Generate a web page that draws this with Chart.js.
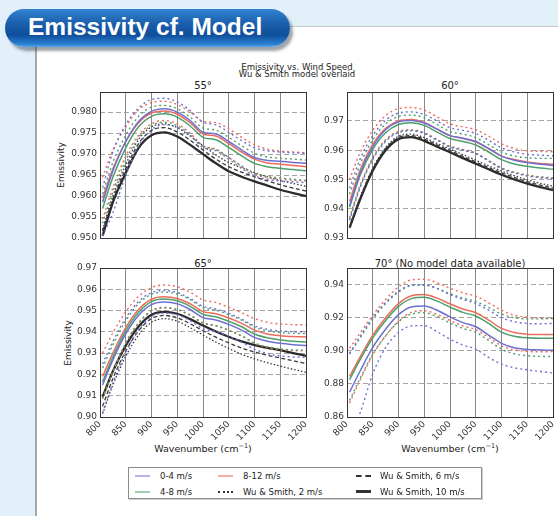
<!DOCTYPE html>
<html>
<head>
<meta charset="utf-8">
<script src="https://cdn.jsdelivr.net/npm/chart.js@4.4.1/dist/chart.umd.min.js"></script>
<style>
  body { margin:0; width:558px; height:516px; background:#e2f0fa; position:relative; overflow:hidden; font-family:"DejaVu Sans", sans-serif; color:#222; }
  #sheet { position:absolute; left:35px; top:26px; width:523px; height:490px; background:#fff; border-left:2px solid #a3a8ad; border-top:1px solid #c3ccd3; }
  #badge { position:absolute; left:5px; top:9px; width:285px; height:38px; border-radius:19px;
           background:linear-gradient(#3282d2 0%, #1a5eab 40%, #0f4e9a 68%, #2a7fd0 92%, #56a6ec 100%);
           box-shadow:3px 4px 3px rgba(40,50,60,0.45); color:#fff;
           font:bold 24.5px "Liberation Sans", Arial, sans-serif; line-height:36px; padding-left:23px; box-sizing:border-box; }
  .lbl { position:absolute; transform:translate(-50%,-50%); white-space:nowrap; }
  .ytitle { position:absolute; transform:translate(-50%,-50%) rotate(-90deg); font-size:9px; white-space:nowrap; }
  canvas { position:absolute; }
  #legend { position:absolute; left:128px; top:467px; width:354px; height:32px; box-sizing:border-box;
            border:1px solid #8c8c8c; box-shadow:1px 1px 0 #cfcfcf; background:#fff; font-size:8.5px; }
  .key { position:absolute; width:15px; height:0; }
  .ktxt { position:absolute; transform:translateY(-50%); white-space:nowrap; }
</style>
</head>
<body>
<div id="sheet"></div>
<div id="badge">Emissivity cf. Model</div>

<div class="lbl" style="left:297px;top:66.5px;font-size:8.5px">Emissivity vs. Wind Speed</div>
<div class="lbl" style="left:297px;top:74px;font-size:8.5px">Wu &amp; Smith model overlaid</div>

<div class="lbl" style="left:203px;top:85px;font-size:10px">55°</div>
<div class="lbl" style="left:450px;top:85px;font-size:10px">60°</div>
<div class="lbl" style="left:203px;top:262.5px;font-size:10px">65°</div>
<div class="lbl" style="left:450px;top:262.5px;font-size:10px">70° (No model data available)</div>

<div class="ytitle" style="left:61px;top:165px">Emissivity</div>
<div class="ytitle" style="left:68px;top:342.5px">Emissivity</div>

<div class="lbl" style="left:203px;top:447.5px;font-size:9.5px">Wavenumber (cm<sup style="font-size:6.5px">−1</sup>)</div>
<div class="lbl" style="left:450px;top:447.5px;font-size:9.5px">Wavenumber (cm<sup style="font-size:6.5px">−1</sup>)</div>

<canvas id="c55"></canvas>
<canvas id="c60"></canvas>
<canvas id="c65"></canvas>
<canvas id="c70"></canvas>

<div id="legend">
  <div class="key" style="left:6px;top:7px;border-top:2px solid #b3b6ea"></div>
  <div class="ktxt" style="left:31px;top:8px">0-4 m/s</div>
  <div class="key" style="left:6px;top:22.5px;border-top:2px solid #a2ceb0"></div>
  <div class="ktxt" style="left:31px;top:23.5px">4-8 m/s</div>
  <div class="key" style="left:89px;top:7px;border-top:2px solid #f3aea5"></div>
  <div class="ktxt" style="left:114px;top:8px">8-12 m/s</div>
  <div class="key" style="left:89px;top:22.5px;border-top:2px dotted #333"></div>
  <div class="ktxt" style="left:114px;top:23.5px">Wu &amp; Smith, 2 m/s</div>
  <div class="key" style="left:227px;top:7px;border-top:2px dashed #333"></div>
  <div class="ktxt" style="left:251px;top:8px">Wu &amp; Smith, 6 m/s</div>
  <div class="key" style="left:227px;top:22px;border-top:3px solid #333"></div>
  <div class="ktxt" style="left:251px;top:23.5px">Wu &amp; Smith, 10 m/s</div>
</div>

<script>
// wavenumber grid (cm^-1) shared by every curve
const wn = [805, 825, 850, 875, 900, 925, 950, 975, 1000, 1025, 1050, 1075, 1100, 1125, 1150, 1175, 1200];
const xTicks = [800, 850, 900, 950, 1000, 1050, 1100, 1150, 1200];

// 55 deg
const w04_55    = [0.9585, 0.9660, 0.9730, 0.9778, 0.9802, 0.9808, 0.9800, 0.9780, 0.9752, 0.9748, 0.9730, 0.9710, 0.9692, 0.9685, 0.9683, 0.9680, 0.9678];
const w04Hi_55  = [0.9620, 0.9705, 0.9770, 0.9810, 0.9830, 0.9833, 0.9824, 0.9804, 0.9776, 0.9770, 0.9752, 0.9732, 0.9715, 0.9708, 0.9705, 0.9703, 0.9702];
const w04Lo_55  = [0.9505, 0.9560, 0.9650, 0.9720, 0.9758, 0.9770, 0.9764, 0.9744, 0.9716, 0.9708, 0.9688, 0.9666, 0.9648, 0.9640, 0.9636, 0.9634, 0.9632];
const w48_55    = [0.9570, 0.9645, 0.9715, 0.9765, 0.9790, 0.9796, 0.9788, 0.9767, 0.9740, 0.9734, 0.9716, 0.9696, 0.9678, 0.9670, 0.9666, 0.9663, 0.9660];
const w48Hi_55  = [0.9605, 0.9680, 0.9745, 0.9790, 0.9812, 0.9816, 0.9808, 0.9788, 0.9762, 0.9757, 0.9740, 0.9720, 0.9702, 0.9693, 0.9690, 0.9688, 0.9686];
const w48Lo_55  = [0.9535, 0.9610, 0.9685, 0.9740, 0.9768, 0.9776, 0.9768, 0.9746, 0.9718, 0.9711, 0.9692, 0.9672, 0.9654, 0.9647, 0.9643, 0.9640, 0.9637];
const w812_55   = [0.9595, 0.9665, 0.9730, 0.9775, 0.9798, 0.9803, 0.9795, 0.9775, 0.9748, 0.9743, 0.9725, 0.9705, 0.9688, 0.9679, 0.9676, 0.9673, 0.9670];
const w812Hi_55 = [0.9645, 0.9710, 0.9765, 0.9805, 0.9823, 0.9826, 0.9818, 0.9800, 0.9778, 0.9775, 0.9760, 0.9740, 0.9722, 0.9712, 0.9707, 0.9705, 0.9703];
const w812Lo_55 = [0.9545, 0.9620, 0.9695, 0.9745, 0.9772, 0.9780, 0.9772, 0.9750, 0.9720, 0.9712, 0.9692, 0.9670, 0.9652, 0.9644, 0.9640, 0.9638, 0.9636];
const ws2_55    = [0.9520, 0.9600, 0.9675, 0.9735, 0.9765, 0.9772, 0.9763, 0.9743, 0.9720, 0.9698, 0.9680, 0.9667, 0.9656, 0.9646, 0.9637, 0.9630, 0.9623];
const ws6_55    = [0.9517, 0.9593, 0.9665, 0.9725, 0.9756, 0.9763, 0.9753, 0.9733, 0.9710, 0.9688, 0.9670, 0.9657, 0.9646, 0.9636, 0.9627, 0.9619, 0.9612];
const ws10_55   = [0.9505, 0.9585, 0.9655, 0.9715, 0.9745, 0.9752, 0.9742, 0.9722, 0.9700, 0.9678, 0.9659, 0.9646, 0.9635, 0.9625, 0.9615, 0.9607, 0.9600];
const yTicks55  = [0.950, 0.955, 0.960, 0.965, 0.970, 0.975, 0.980];

// 60 deg
const w04_60    = [0.9410, 0.9520, 0.9612, 0.9670, 0.9697, 0.9702, 0.9693, 0.9672, 0.9650, 0.9641, 0.9630, 0.9606, 0.9580, 0.9566, 0.9558, 0.9552, 0.9548];
const w04Hi_60  = [0.9470, 0.9568, 0.9650, 0.9702, 0.9727, 0.9731, 0.9722, 0.9700, 0.9677, 0.9668, 0.9657, 0.9634, 0.9608, 0.9594, 0.9586, 0.9583, 0.9581];
const w04Lo_60  = [0.9360, 0.9470, 0.9568, 0.9630, 0.9660, 0.9666, 0.9657, 0.9634, 0.9611, 0.9600, 0.9588, 0.9563, 0.9537, 0.9522, 0.9512, 0.9506, 0.9502];
const w48_60    = [0.9405, 0.9512, 0.9603, 0.9660, 0.9688, 0.9694, 0.9685, 0.9662, 0.9640, 0.9630, 0.9618, 0.9594, 0.9568, 0.9553, 0.9545, 0.9539, 0.9535];
const w48Hi_60  = [0.9450, 0.9550, 0.9635, 0.9690, 0.9715, 0.9720, 0.9711, 0.9688, 0.9664, 0.9655, 0.9643, 0.9619, 0.9594, 0.9580, 0.9574, 0.9572, 0.9572];
const w48Lo_60  = [0.9365, 0.9474, 0.9571, 0.9633, 0.9662, 0.9668, 0.9658, 0.9635, 0.9612, 0.9601, 0.9589, 0.9564, 0.9538, 0.9524, 0.9514, 0.9508, 0.9504];
const w812_60   = [0.9425, 0.9530, 0.9620, 0.9675, 0.9700, 0.9705, 0.9695, 0.9672, 0.9650, 0.9640, 0.9628, 0.9605, 0.9580, 0.9568, 0.9560, 0.9555, 0.9552];
const w812Hi_60 = [0.9500, 0.9590, 0.9668, 0.9718, 0.9742, 0.9746, 0.9737, 0.9714, 0.9690, 0.9680, 0.9670, 0.9648, 0.9622, 0.9606, 0.9598, 0.9596, 0.9595];
const w812Lo_60 = [0.9370, 0.9478, 0.9575, 0.9636, 0.9664, 0.9670, 0.9660, 0.9637, 0.9614, 0.9603, 0.9590, 0.9565, 0.9540, 0.9525, 0.9515, 0.9509, 0.9506];
const ws2_60    = [0.9340, 0.9437, 0.9539, 0.9609, 0.9648, 0.9655, 0.9643, 0.9623, 0.9604, 0.9585, 0.9566, 0.9547, 0.9529, 0.9513, 0.9499, 0.9487, 0.9477];
const ws6_60    = [0.9338, 0.9434, 0.9535, 0.9605, 0.9643, 0.9650, 0.9638, 0.9618, 0.9599, 0.9579, 0.9560, 0.9541, 0.9523, 0.9507, 0.9493, 0.9481, 0.9471];
const ws10_60   = [0.9335, 0.9430, 0.9530, 0.9600, 0.9638, 0.9645, 0.9632, 0.9612, 0.9593, 0.9573, 0.9554, 0.9535, 0.9516, 0.9500, 0.9486, 0.9474, 0.9464];
const yTicks60  = [0.93, 0.94, 0.95, 0.96, 0.97];

// 65 deg
const w04_65    = [0.9150, 0.9268, 0.9390, 0.9478, 0.9528, 0.9540, 0.9532, 0.9505, 0.9467, 0.9456, 0.9435, 0.9408, 0.9374, 0.9356, 0.9346, 0.9340, 0.9336];
const w04Hi_65  = [0.9250, 0.9355, 0.9465, 0.9543, 0.9584, 0.9594, 0.9585, 0.9557, 0.9520, 0.9508, 0.9487, 0.9460, 0.9428, 0.9412, 0.9404, 0.9401, 0.9400];
const w04Lo_65  = [0.9020, 0.9160, 0.9305, 0.9410, 0.9472, 0.9488, 0.9480, 0.9453, 0.9415, 0.9402, 0.9380, 0.9352, 0.9318, 0.9298, 0.9287, 0.9282, 0.9280];
const w48_65    = [0.9165, 0.9282, 0.9405, 0.9492, 0.9542, 0.9554, 0.9546, 0.9520, 0.9482, 0.9471, 0.9450, 0.9424, 0.9390, 0.9372, 0.9362, 0.9356, 0.9352];
const w48Hi_65  = [0.9230, 0.9340, 0.9452, 0.9533, 0.9576, 0.9587, 0.9578, 0.9551, 0.9514, 0.9502, 0.9481, 0.9455, 0.9422, 0.9405, 0.9397, 0.9393, 0.9392];
const w48Lo_65  = [0.9090, 0.9215, 0.9350, 0.9443, 0.9500, 0.9515, 0.9506, 0.9480, 0.9443, 0.9430, 0.9408, 0.9382, 0.9348, 0.9330, 0.9320, 0.9315, 0.9314];
const w812_65   = [0.9190, 0.9300, 0.9420, 0.9505, 0.9553, 0.9565, 0.9557, 0.9532, 0.9495, 0.9485, 0.9465, 0.9440, 0.9408, 0.9390, 0.9382, 0.9378, 0.9376];
const w812Hi_65 = [0.9300, 0.9395, 0.9495, 0.9567, 0.9608, 0.9620, 0.9612, 0.9587, 0.9550, 0.9538, 0.9515, 0.9490, 0.9462, 0.9445, 0.9437, 0.9434, 0.9433];
const w812Lo_65 = [0.9085, 0.9210, 0.9345, 0.9440, 0.9497, 0.9512, 0.9503, 0.9477, 0.9440, 0.9428, 0.9406, 0.9380, 0.9345, 0.9326, 0.9316, 0.9312, 0.9310];
const ws2_65    = [0.9015, 0.9150, 0.9285, 0.9385, 0.9445, 0.9462, 0.9450, 0.9420, 0.9385, 0.9352, 0.9322, 0.9295, 0.9273, 0.9255, 0.9239, 0.9224, 0.9210];
const ws6_65    = [0.9050, 0.9180, 0.9310, 0.9405, 0.9462, 0.9477, 0.9466, 0.9438, 0.9405, 0.9375, 0.9348, 0.9324, 0.9305, 0.9290, 0.9277, 0.9264, 0.9252];
const ws10_65   = [0.9095, 0.9215, 0.9335, 0.9425, 0.9480, 0.9494, 0.9485, 0.9460, 0.9430, 0.9402, 0.9377, 0.9355, 0.9338, 0.9325, 0.9314, 0.9300, 0.9287];
const yTicks65  = [0.90, 0.91, 0.92, 0.93, 0.94, 0.95, 0.96, 0.97];

// 70 deg (observations only)
const w04_70    = [0.8750, 0.8875, 0.9020, 0.9130, 0.9218, 0.9265, 0.9270, 0.9245, 0.9205, 0.9170, 0.9145, 0.9095, 0.9045, 0.9018, 0.9008, 0.9005, 0.9003];
const w04Hi_70  = [0.8985, 0.9085, 0.9200, 0.9292, 0.9360, 0.9396, 0.9398, 0.9375, 0.9340, 0.9310, 0.9285, 0.9245, 0.9200, 0.9175, 0.9165, 0.9163, 0.9165];
const w04Lo_70  = [0.8480, 0.8620, 0.8860, 0.9020, 0.9110, 0.9150, 0.9152, 0.9115, 0.9070, 0.9035, 0.9010, 0.8960, 0.8920, 0.8897, 0.8885, 0.8875, 0.8866];
const w48_70    = [0.8825, 0.8943, 0.9078, 0.9183, 0.9268, 0.9315, 0.9323, 0.9300, 0.9264, 0.9232, 0.9210, 0.9165, 0.9113, 0.9088, 0.9078, 0.9075, 0.9075];
const w48Hi_70  = [0.8980, 0.9075, 0.9190, 0.9285, 0.9355, 0.9393, 0.9397, 0.9377, 0.9345, 0.9318, 0.9298, 0.9262, 0.9222, 0.9200, 0.9193, 0.9193, 0.9195];
const w48Lo_70  = [0.8700, 0.8830, 0.8980, 0.9090, 0.9175, 0.9222, 0.9230, 0.9206, 0.9168, 0.9135, 0.9112, 0.9062, 0.9010, 0.8982, 0.8970, 0.8966, 0.8965];
const w812_70   = [0.8845, 0.8960, 0.9095, 0.9200, 0.9285, 0.9332, 0.9340, 0.9318, 0.9283, 0.9252, 0.9230, 0.9185, 0.9135, 0.9110, 0.9100, 0.9098, 0.9098];
const w812Hi_70 = [0.9015, 0.9105, 0.9215, 0.9310, 0.9385, 0.9428, 0.9432, 0.9410, 0.9378, 0.9350, 0.9330, 0.9290, 0.9245, 0.9215, 0.9203, 0.9198, 0.9196];
const w812Lo_70 = [0.8685, 0.8820, 0.8975, 0.9090, 0.9180, 0.9232, 0.9242, 0.9220, 0.9183, 0.9150, 0.9128, 0.9080, 0.9030, 0.9005, 0.8996, 0.8994, 0.8995];
const yTicks70  = [0.86, 0.88, 0.90, 0.92, 0.94];

const BLUE = '#6d70d2', GREEN = '#4d9f6b', RED = '#ec6c5c', INK = '#2b2b2b';

function pts(arr) {
  return arr.map((v, i) => ({ x: wn[i], y: v }));
}

function line(arr, color, kind) {
  const ds = { data: pts(arr), borderColor: color, pointRadius: 0, cubicInterpolationMode: 'monotone', borderWidth: 1.5 };
  if (kind === 'dot') { ds.borderDash = [2, 3]; ds.borderWidth = 1.4; }
  if (kind === 'dash') { ds.borderDash = [4, 2.5]; ds.borderWidth = 1.3; }
  if (kind === 'fine') { ds.borderDash = [1.5, 2]; ds.borderWidth = 1.3; }
  if (kind === 'thick') { ds.borderWidth = 2.3; }
  return ds;
}

// matplotlib style box round the axes
const frame = {
  id: 'frame',
  afterDraw(chart) {
    const a = chart.chartArea, c = chart.ctx;
    c.save();
    c.strokeStyle = '#333';
    c.lineWidth = 1;
    c.strokeRect(Math.round(a.left) + 0.5, Math.round(a.top) + 0.5, Math.round(a.right - a.left), Math.round(a.bottom - a.top));
    c.restore();
  }
};

function panel(id, box, datasets, yMin, yMax, yTicks, dec, bottom) {
  const YW = 46, TOP = 8, XH = bottom ? 30 : 8, RP = 4;
  const cv = document.getElementById(id);
  cv.width = box.w + YW + RP;
  cv.height = box.h + TOP + XH;
  cv.style.left = (box.l - YW) + 'px';
  cv.style.top = (box.t - TOP) + 'px';
  new Chart(cv, {
    type: 'line',
    data: { datasets },
    options: {
      responsive: false,
      animation: false,
      layout: { padding: { top: TOP, right: RP, left: 0, bottom: 0 } },
      plugins: { legend: { display: false }, tooltip: { enabled: false } },
      scales: {
        x: {
          type: 'linear', min: 800, max: 1200,
          afterBuildTicks: s => { s.ticks = xTicks.map(v => ({ value: v })); },
          afterFit: s => { s.height = XH; s.paddingLeft = 0; s.paddingRight = 0; },
          grid: { color: '#6a6a6a', lineWidth: 0.8, drawTicks: false },
          border: { display: false },
          ticks: {
            display: bottom, autoSkip: false, minRotation: 45, maxRotation: 45, padding: 2,
            font: { family: 'DejaVu Sans', size: 9 }, color: '#333',
            callback: v => String(v)
          }
        },
        y: {
          min: yMin, max: yMax,
          afterBuildTicks: s => { s.ticks = yTicks.map(v => ({ value: v })); },
          afterFit: s => { s.width = YW; s.paddingTop = 0; s.paddingBottom = 0; },
          grid: { color: '#9a9a9a', lineWidth: 0.9, drawTicks: false },
          border: { display: false, dash: [5, 3] },
          ticks: {
            padding: 3, font: { family: 'DejaVu Sans', size: 9 }, color: '#333',
            callback: v => v.toFixed(dec)
          }
        }
      }
    },
    plugins: [frame]
  });
}

function obs(a04, a04Hi, a04Lo, a48, a48Hi, a48Lo, a812, a812Hi, a812Lo) {
  return [
    line(a04Hi, BLUE, 'dot'), line(a04Lo, BLUE, 'dot'),
    line(a48Hi, GREEN, 'dot'), line(a48Lo, GREEN, 'dot'),
    line(a812Hi, RED, 'dot'), line(a812Lo, RED, 'dot'),
    line(a04, BLUE), line(a48, GREEN), line(a812, RED)
  ];
}

function model(a2, a6, a10) {
  return [line(a2, '#3a3a3a', 'fine'), line(a6, '#3a3a3a', 'dash'), line(a10, INK, 'thick')];
}

panel('c55', { l: 100, t: 92, w: 206, h: 146 },
  obs(w04_55, w04Hi_55, w04Lo_55, w48_55, w48Hi_55, w48Lo_55, w812_55, w812Hi_55, w812Lo_55).concat(model(ws2_55, ws6_55, ws10_55)),
  0.950, 0.9848, yTicks55, 3, false);

panel('c60', { l: 347, t: 92, w: 206, h: 146 },
  obs(w04_60, w04Hi_60, w04Lo_60, w48_60, w48Hi_60, w48Lo_60, w812_60, w812Hi_60, w812Lo_60).concat(model(ws2_60, ws6_60, ws10_60)),
  0.93, 0.9799, yTicks60, 2, false);

panel('c65', { l: 100, t: 268, w: 206, h: 149 },
  obs(w04_65, w04Hi_65, w04Lo_65, w48_65, w48Hi_65, w48Lo_65, w812_65, w812Hi_65, w812Lo_65).concat(model(ws2_65, ws6_65, ws10_65)),
  0.90, 0.97, yTicks65, 2, true);

panel('c70', { l: 347, t: 268, w: 206, h: 149 },
  obs(w04_70, w04Hi_70, w04Lo_70, w48_70, w48Hi_70, w48Lo_70, w812_70, w812Hi_70, w812Lo_70),
  0.86, 0.95, yTicks70, 2, true);
</script>
</body>
</html>
